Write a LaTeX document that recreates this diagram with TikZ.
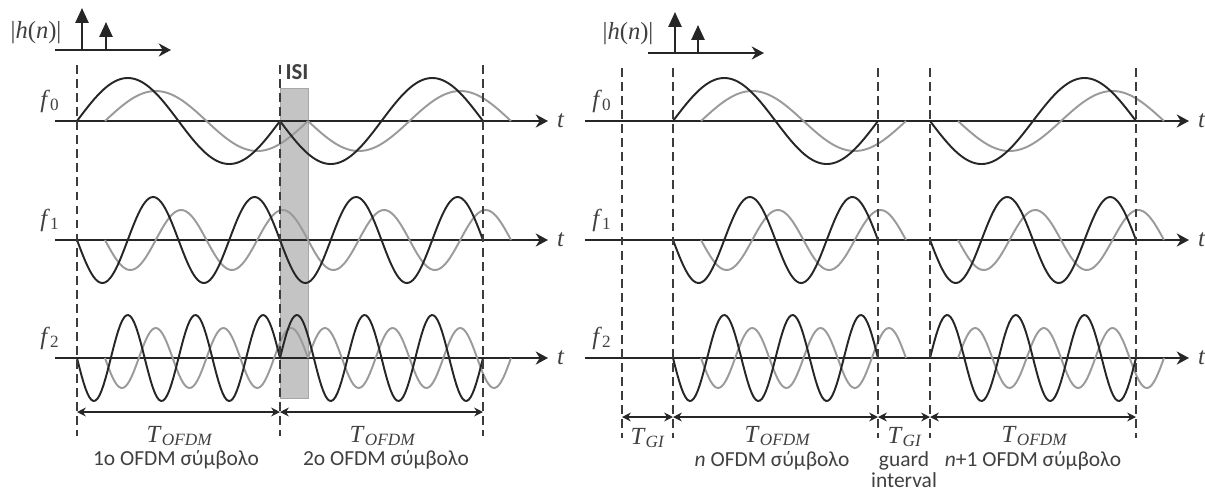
\documentclass[tikz,border=0pt]{standalone}
\usepackage{fontspec}
\setmainfont{Carlito}
\newfontfamily\varfont{Liberation Serif}
\usetikzlibrary{arrows.meta, positioning, calc}

\definecolor{inkdark}{HTML}{262626}
\definecolor{inkgray}{HTML}{9A9A9A}
\definecolor{isifill}{HTML}{C4C4C4}
\definecolor{labelgray}{HTML}{404040}

% one symbol of a subcarrier: style, start, length, cycles, amplitude, axis y
\newcommand{\ofdmwave}[6]{%
  \draw[#1] plot[domain=0:#3, samples=100] ({#2+\x}, {#6-(#5)*sin((\x/#3)*360*#4)});}
% italic variable with subscript
\newcommand{\varsub}[2]{\textit{#1}\textsubscript{#2}}

\begin{document}
\begin{tikzpicture}[
			x=0.02cm, y=-0.02cm,
			axis/.style={draw=inkdark, line width=1.1pt, -{Stealth[length=7pt, width=7.5pt]}},
			impulse/.style={draw=inkdark, line width=1.1pt, -{Triangle[length=8.5pt, width=7.5pt]}},
			blackwave/.style={draw=inkdark, line width=1.1pt},
			graywave/.style={draw=inkgray, line width=1.1pt},
			bound/.style={draw=inkdark!90, line width=1.1pt, dash pattern=on 5pt off 3pt},
			dim/.style={draw=inkdark, line width=0.9pt, {Stealth[length=5pt, width=5pt]}-{Stealth[length=5pt, width=5pt]}},
			isibox/.style={draw=isifill!85!black, fill=isifill, line width=0.4pt},
			mlab/.style={text=labelgray, font=\fontsize{14}{16}\selectfont\varfont, inner sep=0pt},
			txt/.style={text=labelgray, font=\fontsize{12.2}{13.5}\selectfont, align=center, inner sep=0pt}
			]
			\useasboundingbox (0,0) rectangle (1205,495);
			
			% ISI region
			\draw[isibox] (280,88) rectangle (308,398);
			\node[txt, font=\fontsize{13}{15}\selectfont\bfseries] (isi) at (297,72) {ISI};
			
			% channel impulse responses
			\coordinate (chLs) at (55,50);
			\coordinate (chLe) at (171,50);
			\draw[axis] (chLs) -- (chLe);
			\coordinate (hLa) at (82,50);
			\coordinate (hLaTop) at (82,8);
			\coordinate (hLb) at (106,50);
			\coordinate (hLbTop) at (106,22);
			\draw[impulse] (hLa) -- (hLaTop);
			\draw[impulse] (hLb) -- (hLbTop);
			\node[mlab] (hL) at (36,33) {|\textit{h}(\textit{n})|};
			
			\coordinate (chRs) at (648,53);
			\coordinate (chRe) at (764,53);
			\draw[axis] (chRs) -- (chRe);
			\coordinate (hRa) at (675,53);
			\coordinate (hRaTop) at (675,12);
			\coordinate (hRb) at (698,53);
			\coordinate (hRbTop) at (698,25);
			\draw[impulse] (hRa) -- (hRaTop);
			\draw[impulse] (hRb) -- (hRbTop);
			\node[mlab] (hR) at (628,34) {|\textit{h}(\textit{n})|};
			
			% time axes
			\foreach \row/\yy in {0/121, 1/240, 2/358} {
				\coordinate (axL\row) at (55,\yy);
				\coordinate (endL\row) at (548,\yy);
				\draw[axis] (axL\row) -- (endL\row);
				\node[mlab, right=5pt of endL\row] (tL\row) {\textit{t}};
				\node[mlab] (fL\row) at (50,\yy-20) {\varsub{f}{\row}};
				\coordinate (axR\row) at (585,\yy);
				\coordinate (endR\row) at (1189,\yy);
				\draw[axis] (axR\row) -- (endR\row);
				\node[mlab, right=5pt of endR\row] (tR\row) {\textit{t}};
				\node[mlab] (fR\row) at (602,\yy-20) {\varsub{f}{\row}};
			}
			
			% subcarriers: delayed copy first, then the direct path
			\foreach \yy/\cyc/\sa/\sb in {121/1/1/-1, 240/2/-1/-1, 358/3/-1/1} {
				\ofdmwave{graywave}{105}{203}{\cyc}{\sa*30}{\yy}
				\ofdmwave{graywave}{308}{203}{\cyc}{\sb*30}{\yy}
				\ofdmwave{blackwave}{77}{203}{\cyc}{\sa*43}{\yy}
				\ofdmwave{blackwave}{280}{203}{\cyc}{\sb*43}{\yy}
				\ofdmwave{graywave}{701}{205}{\cyc}{\sa*30}{\yy}
				\ofdmwave{graywave}{958}{206}{\cyc}{\sb*30}{\yy}
				\ofdmwave{blackwave}{673}{205}{\cyc}{\sa*43}{\yy}
				\ofdmwave{blackwave}{930}{206}{\cyc}{\sb*43}{\yy}
			}
			
			% symbol boundaries
			\foreach \nm/\xx in {la/77, lb/280, lc/483} {
				\coordinate (\nm top) at (\xx,65);
				\coordinate (\nm bot) at (\xx,436);
				\coordinate (\nm dim) at (\xx,412);
				\draw[bound] (\nm top) -- (\nm bot);
			}
			\foreach \nm/\xx in {ra/622, rb/673, rc/878, rd/930, re/1136} {
				\coordinate (\nm top) at (\xx,68);
				\coordinate (\nm bot) at (\xx,438);
				\coordinate (\nm dim) at (\xx,417);
				\draw[bound] (\nm top) -- (\nm bot);
			}
			
			% durations
			\draw[dim] (ladim) -- (lbdim);
			\draw[dim] (lbdim) -- (lcdim);
			\draw[dim] (radim) -- (rbdim);
			\draw[dim] (rbdim) -- (rcdim);
			\draw[dim] (rcdim) -- (rddim);
			\draw[dim] (rddim) -- (redim);
			
			\node[mlab] (tofdm1) at (180,436) {\varsub{T}{\textit{OFDM}}};
			\node[txt] (sym1) at (176,460) {1o OFDM σύμβολο};
			\node[mlab] (tofdm2) at (383,436) {\varsub{T}{\textit{OFDM}}};
			\node[txt] (sym2) at (386,460) {2o OFDM σύμβολο};
			
			\node[mlab] (tgi1) at (648,438) {\varsub{T}{\textit{GI}}};
			\node[mlab] (tofdmn) at (778,436) {\varsub{T}{\textit{OFDM}}};
			\node[txt] (symn) at (772,461) {\textit{n} OFDM σύμβολο};
			\node[mlab] (tgi2) at (905,437) {\varsub{T}{\textit{GI}}};
			\node[txt, font=\fontsize{12.2}{12}\selectfont] (guard) at (904,470) {guard\\interval};
			\node[mlab] (tofdmn1) at (1035,436) {\varsub{T}{\textit{OFDM}}};
			\node[txt] (symn1) at (1033,461) {\textit{n}+1 OFDM σύμβολο};
		\end{tikzpicture}
\end{document}
